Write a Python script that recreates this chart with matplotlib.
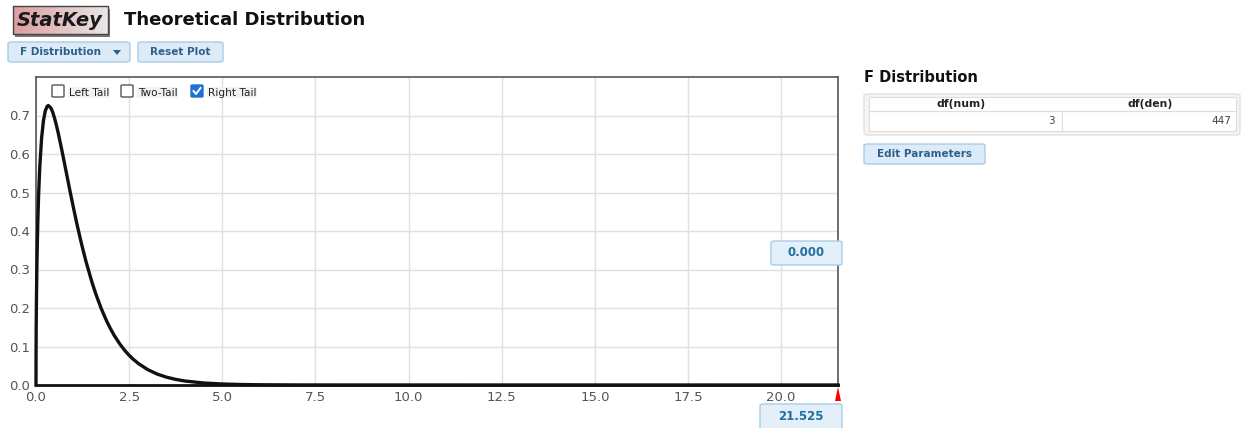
import matplotlib
matplotlib.use("Agg")
import matplotlib.pyplot as plt
from matplotlib.patches import FancyBboxPatch, Rectangle, Polygon

W, H = 1241, 428

# points, F(3, 447)
x_vals = [0.0, 0.001, 0.002, 0.005, 0.01, 0.02, 0.03, 0.05, 0.07, 0.1, 0.15, 0.2, 0.25,
          0.3, 0.333, 0.4, 0.45, 0.5, 0.55, 0.6, 0.7, 0.75, 0.8, 0.9, 1.0, 1.1, 1.2,
          1.25, 1.35, 1.5, 1.6, 1.75, 1.9, 2.0, 2.1, 2.25, 2.4, 2.5, 2.6, 2.75, 3.0,
          3.25, 3.5, 3.75, 4.0, 4.5, 5.0, 5.5, 6.0, 7.0, 8.0, 21.525]
y_vals = [0.0, 0.0655, 0.0926, 0.1455, 0.2042, 0.2845, 0.3433, 0.430, 0.4938, 0.5642,
          0.6411, 0.6868, 0.7124, 0.7240, 0.7259, 0.7195, 0.7081, 0.6924, 0.6737,
          0.6529, 0.6069, 0.5829, 0.5585, 0.5098, 0.4626, 0.4175, 0.3754, 0.3555,
          0.3179, 0.2676, 0.2379, 0.1987, 0.1653, 0.146, 0.1287, 0.1064, 0.0877,
          0.0771, 0.0677, 0.0556, 0.0399, 0.0285, 0.0204, 0.0145, 0.0103, 0.0052,
          0.0026, 0.0013, 0.0006, 0.00015, 0.00004, 0.0]
x_ticks = [0.0, 2.5, 5.0, 7.5, 10.0, 12.5, 15.0, 17.5, 20.0]
y_ticks = [0.0, 0.1, 0.2, 0.3, 0.4, 0.5, 0.6, 0.7]
x_max = 21.525
y_max = 0.80
tail_prob = "0.000"
tail_cut = "21.525"
df_num, df_den = 3, 447

plt.rcParams['font.family'] = ['DejaVu Sans']

fig = plt.figure(figsize=(W / 100, H / 100), dpi=100)
fig.patch.set_facecolor('white')


def fx(px):
    return px / W


def fy(py):
    return 1 - py / H


def box(x0, y0, x1, y1, fc, ec, r=4, lw=1.0, z=1):
    p = FancyBboxPatch((fx(x0), fy(y1)), fx(x1 - x0), (y1 - y0) / H,
                       boxstyle="round,pad=0,rounding_size=%f" % (r / W),
                       transform=fig.transFigure, fc=fc, ec=ec, lw=lw, zorder=z)
    fig.add_artist(p)


# StatKey logo
for i in range(40):
    t = i / 39
    c = (0.86 + 0.05 * t, 0.62 + 0.28 * t, 0.62 + 0.28 * t)
    fig.add_artist(Rectangle((fx(13 + i * 95 / 40), fy(34)), fx(95 / 40 + 0.5), 28 / H,
                             transform=fig.transFigure, fc=c, ec='none', zorder=1))
fig.add_artist(Rectangle((fx(15), fy(37)), fx(95), 28 / H, transform=fig.transFigure,
                         fc='#777777', ec='none', zorder=0))
fig.add_artist(Rectangle((fx(13), fy(34)), fx(95), 28 / H, transform=fig.transFigure,
                         fc='none', ec='#444444', lw=1.0, zorder=2))
fig.text(fx(60), fy(21), "StatKey", fontsize=14, fontweight='bold', style='italic',
         color='#1a1a1a', ha='center', va='center', zorder=3)
fig.text(fx(124), fy(20), "Theoretical Distribution", fontsize=13, fontweight='bold',
         color='#111111', ha='left', va='center')

# buttons
btn_fc, btn_ec, btn_tc = '#dcebf7', '#a9cce8', '#2d5f8b'
box(8, 42, 130, 62, btn_fc, btn_ec)
fig.text(fx(20), fy(52), "F Distribution", fontsize=7.5, fontweight='bold', color=btn_tc,
         ha='left', va='center')
fig.add_artist(Polygon([(fx(113), fy(50)), (fx(121), fy(50)), (fx(117), fy(55))],
                       closed=True, transform=fig.transFigure, fc=btn_tc, ec='none'))
box(138, 42, 223, 62, btn_fc, btn_ec)
fig.text(fx(180.5), fy(52), "Reset Plot", fontsize=7.5, fontweight='bold', color=btn_tc,
         ha='center', va='center')

# main plot
ax = fig.add_axes([fx(36), fy(385), fx(838 - 36), (385 - 77) / H])
ax.plot(x_vals, y_vals, color='#111111', lw=2.4, solid_joinstyle='round', clip_on=False, zorder=3)
ax.set_xlim(0, x_max)
ax.set_ylim(0, y_max)
ax.set_xticks(x_ticks)
ax.set_yticks(y_ticks)
ax.set_xticklabels(["%.1f" % v for v in x_ticks])
ax.set_yticklabels(["%.1f" % v for v in y_ticks])
ax.grid(True, color='#e0e0e0', lw=1.0)
ax.set_axisbelow(True)
ax.tick_params(length=0, labelsize=9.5, labelcolor='#555555', pad=4)
for s in ax.spines.values():
    s.set_color('#555555')
    s.set_linewidth(1.2)
ax.spines['bottom'].set_color('#111111')
ax.spines['bottom'].set_linewidth(2)

# tail checkboxes
checks = [(52, "Left Tail", False), (121, "Two-Tail", False), (191, "Right Tail", True)]
for cx, lab, on in checks:
    if on:
        box(cx, 85, cx + 12, 97, '#1e6fd9', '#1e6fd9', r=2, z=5)
        fig.add_artist(plt.Line2D([fx(cx + 2.5), fx(cx + 5), fx(cx + 9.5)],
                                  [fy(91), fy(94), fy(88)], transform=fig.transFigure,
                                  color='white', lw=1.4, zorder=6))
    else:
        box(cx, 85, cx + 12, 97, 'white', '#555555', r=2, z=5)
    fig.text(fx(cx + 17), fy(92.5), lab, fontsize=7.6, color='#222222', ha='left', va='center',
             zorder=6, bbox=dict(fc='#f2f2f2', ec='none', pad=0.6))

# tail value labels
val_fc, val_ec, val_tc = '#e3f0fa', '#a9cce8', '#1f6e9e'
box(771, 241, 842, 265, val_fc, val_ec, r=4, z=5)
fig.text(fx(806.5), fy(253), tail_prob, fontsize=8.5, fontweight='bold', color=val_tc,
         ha='center', va='center', zorder=6)
box(760, 404, 842, 432, val_fc, val_ec, r=4, z=5)
fig.text(fx(801), fy(417), tail_cut, fontsize=8.5, fontweight='bold', color=val_tc,
         ha='center', va='center', zorder=6)
fig.add_artist(Polygon([(fx(835), fy(401)), (fx(841), fy(401)), (fx(838), fy(387))],
                       closed=True, transform=fig.transFigure, fc='red', ec='none', zorder=7))

# parameter panel
fig.text(fx(864), fy(78), "F Distribution", fontsize=10.5, fontweight='bold', color='#111111',
         ha='left', va='center')
box(864, 94, 1240, 135, '#f4f4f4', '#e2e2e2', r=4)
fig.add_artist(Rectangle((fx(869), fy(131)), fx(1236 - 869), 20 / H, transform=fig.transFigure,
                         fc='white', ec='#dddddd', lw=0.8, zorder=2))
fig.add_artist(Rectangle((fx(869), fy(111)), fx(1236 - 869), 14 / H, transform=fig.transFigure,
                         fc='white', ec='#dddddd', lw=0.8, zorder=2))
fig.add_artist(plt.Line2D([fx(1062), fx(1062)], [fy(111), fy(131)], transform=fig.transFigure,
                          color='#dddddd', lw=0.8, zorder=3))
fig.text(fx(961), fy(104), "df(num)", fontsize=7.8, fontweight='bold', color='#222222',
         ha='center', va='center', zorder=4)
fig.text(fx(1150), fy(104), "df(den)", fontsize=7.8, fontweight='bold', color='#222222',
         ha='center', va='center', zorder=4)
fig.text(fx(1055), fy(121), str(df_num), fontsize=7.5, color='#444444', ha='right', va='center',
         zorder=4)
fig.text(fx(1231), fy(121), str(df_den), fontsize=7.5, color='#444444', ha='right', va='center',
         zorder=4)
box(864, 144, 985, 164, btn_fc, btn_ec)
fig.text(fx(924.5), fy(154), "Edit Parameters", fontsize=7.5, fontweight='bold', color=btn_tc,
         ha='center', va='center')

fig.savefig("out.png", dpi=100)
